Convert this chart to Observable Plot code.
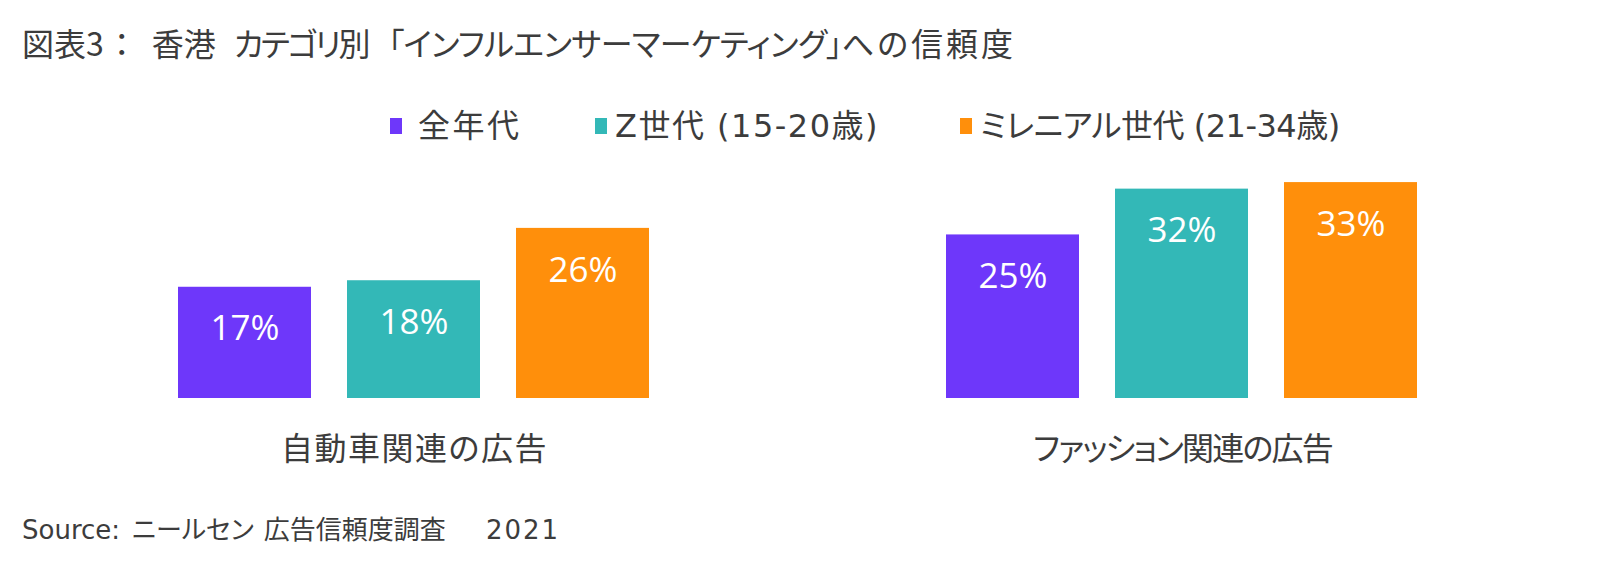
<!DOCTYPE html>
<html lang="ja">
<head>
<meta charset="utf-8">
<script src="https://cdn.jsdelivr.net/npm/d3@7"></script>
<script src="https://cdn.jsdelivr.net/npm/@observablehq/plot@0.6"></script>
<style>
  html, body { margin: 0; padding: 0; background: #fff; }
  #wrap { position: relative; width: 1600px; height: 586px; overflow: hidden; font-family: "Noto Sans CJK JP", sans-serif; font-feature-settings: "palt"; color: #3c3c3c; }
  .title { position: absolute; left: 22px; top: 26px; font-size: 32px; line-height: 32px; white-space: nowrap; }
  .legend-item { position: absolute; top: 110px; font-size: 32px; line-height: 32px; white-space: nowrap; display: flex; align-items: center; font-family: "DejaVu Sans", "Noto Sans CJK JP", sans-serif; }
  .swatch { display: inline-block; width: 12px; height: 16px; }
  #chart { position: absolute; left: 0; top: 150px; }
  .source { position: absolute; left: 22px; top: 515px; font-size: 26px; line-height: 26px; white-space: nowrap; }
  .latin { font-family: "DejaVu Sans", "Noto Sans CJK JP", sans-serif; }
</style>
</head>
<body>
<div id="wrap">
  <div class="title"><span>図表3</span><span style="margin:0 22px 0 10px">：</span><span>香港</span><span style="margin-left:18px;letter-spacing:-2.5px">カテゴリ別</span><span style="margin-left:20px;letter-spacing:-0.6px">「インフルエンサーマーケティング」</span><span style="letter-spacing:3px">への信頼度</span></div>
  <div id="legend"></div>
  <div id="chart"></div>
  <div class="source"><span class="latin">Source:</span><span style="margin-left:12px">ニールセン</span><span style="margin-left:10px">広告信頼度調査</span><span class="latin" style="margin-left:40px;letter-spacing:2px">2021</span></div>
</div>
<script>
const categories = ["自動車関連の広告", "ファッション関連の広告"];
const seriesNames = ["全年代", "Z世代 (15-20歳)", "ミレニアル世代 (21-34歳)"];
const seriesColors = ["#6E37FA", "#33B8B7", "#FF8F0B"];
const autoValues = [17, 18, 26];
const fashionValues = [25, 32, 33];
const legendLefts = [390, 595, 960];
const legendGaps = [16, 8, 8];
const legendSpacing = [2.5, 1.5, -0.5];
const categorySpacing = [1.5, -1.8];

const valueSets = [autoValues, fashionValues];
const data = categories.flatMap((c, i) =>
  seriesNames.map((s, j) => ({category: c, series: s, value: valueSets[i][j]}))
);

// legend
const legend = document.getElementById("legend");
seriesNames.forEach((s, i) => {
  const item = document.createElement("div");
  item.className = "legend-item";
  item.style.left = legendLefts[i] + "px";
  const sw = document.createElement("span");
  sw.className = "swatch";
  sw.style.background = seriesColors[i];
  sw.style.marginRight = legendGaps[i] + "px";
  const label = document.createElement("span");
  label.style.letterSpacing = legendSpacing[i] + "px";
  label.textContent = s;
  item.appendChild(sw);
  item.appendChild(label);
  legend.appendChild(item);
});

const chart = Plot.plot({
  width: 1600,
  height: 330,
  marginTop: 19,
  marginBottom: 82,
  marginLeft: 30,
  marginRight: 34,
  style: {background: "transparent", fontFamily: "'Noto Sans CJK JP', sans-serif"},
  fx: {domain: categories, padding: 0, axis: null},
  x: {domain: seriesNames, paddingInner: 0.212, paddingOuter: 0.865, axis: null},
  y: {domain: [0, 35], axis: null},
  color: {domain: seriesNames, range: seriesColors},
  marks: [
    Plot.barY(data, {fx: "category", x: "series", y: "value", fill: "series"}),
    Plot.text(data, {
      fx: "category", x: "series", y: "value",
      text: d => d.value + "%",
      dy: 42, fill: "white", fontSize: 35, fontFamily: "Open Sans",
      lineAnchor: "middle"
    }),
    Plot.text(categories, {
      fx: d => d, frameAnchor: "bottom", text: d => d,
      dy: 51, fontSize: 32, fill: "#3c3c3c", lineAnchor: "middle",
      fontFamily: "Noto Sans CJK JP"
    })
  ]
});
// per-label letter spacing for category labels
d3.select(chart).selectAll("text").each(function() {
  const i = categories.indexOf(this.textContent);
  if (i >= 0) d3.select(this).style("letter-spacing", categorySpacing[i] + "px");
});
document.getElementById("chart").appendChild(chart);
</script>
</body>
</html>
